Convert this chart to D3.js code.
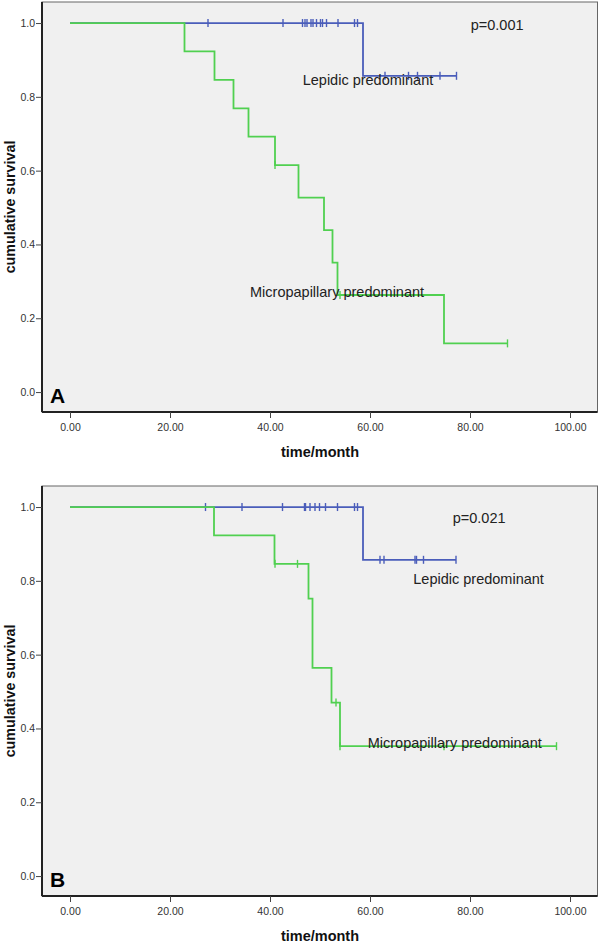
<!DOCTYPE html>
<html><head><meta charset="utf-8">
<script src="https://cdn.jsdelivr.net/npm/d3@7"></script>
<style>body{margin:0;background:#fff}svg{display:block}text{font-family:"Liberation Sans",Arial,sans-serif}</style>
</head><body>
<script>
// ---- data ----
const xTickValues = [0, 20, 40, 60, 80, 100];
const yTickValues = [0, 0.2, 0.4, 0.6, 0.8, 1.0];

// Panel A
const aLepTimes = [0, 58.6];
const aLepSurv = [1.0, 0.857];
const aLepEnd = 77.3;
const aLepCensor = [27.6, 42.6, 46.5, 47.0, 47.4, 48.2, 48.6, 49.3, 50.1, 50.5, 51.3, 53.6, 56.9, 57.5, 63.0, 67.7, 69.5, 74.0, 77.3];
const aMicTimes = [0, 22.9, 28.9, 32.7, 35.7, 41.0, 45.7, 50.8, 52.5, 53.5, 74.8];
const aMicSurv = [1.0, 0.923, 0.846, 0.769, 0.692, 0.615, 0.527, 0.439, 0.351, 0.263, 0.132];
const aMicEnd = 87.5;
const aMicCensor = [41.0, 54.0, 87.5];

// Panel B
const bLepTimes = [0, 58.6];
const bLepSurv = [1.0, 0.857];
const bLepEnd = 77.2;
const bLepCensor = [27.1, 34.4, 42.5, 46.9, 47.1, 48.0, 49.0, 49.9, 51.1, 53.5, 56.9, 57.5, 62.0, 62.8, 69.0, 69.3, 70.7, 77.2];
const bMicTimes = [0, 28.8, 40.9, 47.7, 48.5, 52.3, 54.0];
const bMicSurv = [1.0, 0.923, 0.846, 0.752, 0.564, 0.470, 0.352];
const bMicEnd = 97.3;
const bMicCensor = [41.0, 45.5, 53.2, 54.0, 74.8, 97.3];

const panels = [
  {label: "A", p: "p=0.001", offset: 0,
   lep: {t: aLepTimes, s: aLepSurv, end: aLepEnd, c: aLepCensor},
   mic: {t: aMicTimes, s: aMicSurv, end: aMicEnd, c: aMicCensor},
   pPos: [470.7, 29.5], lepPos: [302.7, 85], micPos: [250, 297.3]},
  {label: "B", p: "p=0.021", offset: 484,
   lep: {t: bLepTimes, s: bLepSurv, end: bLepEnd, c: bLepCensor},
   mic: {t: bMicTimes, s: bMicSurv, end: bMicEnd, c: bMicCensor},
   pPos: [452.7, 39.3], lepPos: [413.3, 100.3], micPos: [367.7, 263.7]}
];

const BLUE = "#4a5dba", GREEN = "#50d050";
const W = 600, H = 943;
const svg = d3.select("body").append("svg").attr("width", W).attr("height", H);

const x = d3.scaleLinear().domain([-5.6, 105.5]).range([42, 597.5]);
const y = d3.scaleLinear().domain([-0.054, 1.057]).range([412, 2]);

function survAt(curve, t) {
  let v = curve.s[0];
  for (let i = 0; i < curve.t.length; i++) if (curve.t[i] <= t) v = curve.s[i];
  return v;
}

panels.forEach(P => {
  const g = svg.append("g").attr("transform", `translate(0,${P.offset})`);
  g.append("rect").attr("x", x.range()[0]).attr("y", y.range()[1])
    .attr("width", x.range()[1] - x.range()[0]).attr("height", y.range()[0] - y.range()[1])
    .attr("fill", "#f0f0f0").attr("stroke", "#666").attr("stroke-width", 1);

  const xAxis = d3.axisBottom(x).tickValues(xTickValues).tickSize(6).tickFormat(d3.format(".2f"));
  const yAxis = d3.axisLeft(y).tickValues(yTickValues).tickSize(6).tickFormat(d3.format(".1f"));
  const gx = g.append("g").attr("transform", `translate(0,${y.range()[0]})`).call(xAxis);
  const gy = g.append("g").attr("transform", `translate(${x.range()[0]},0)`).call(yAxis);
  [gx, gy].forEach(a => {
    a.select(".domain").attr("stroke", "#222").attr("stroke-width", 2);
    a.selectAll(".tick line").attr("stroke", "#444");
    a.selectAll(".tick text").attr("fill", "#333").style("font-size", "10.5px");
  });
  gy.select(".domain").attr("d", `M0,${y.range()[0]}V${y.range()[1]}`);
  gx.select(".domain").attr("d", `M${x.range()[0]},0H${x.range()[1]}`);
  gx.selectAll(".tick text").attr("dy", "0.95em");
  gy.selectAll(".tick text").attr("x", -7);

  g.append("text").attr("x", 320).attr("y", 456.5).attr("text-anchor", "middle")
    .attr("font-weight", "bold").style("font-size", "14.5px").attr("fill", "#111").text("time/month");
  g.append("text").attr("transform", `translate(14.5,207) rotate(-90)`).attr("text-anchor", "middle")
    .attr("font-weight", "bold").style("font-size", "14.3px").attr("fill", "#111").text("cumulative survival");

  const line = d3.line().curve(d3.curveStepAfter).x(d => x(d[0])).y(d => y(d[1]));
  [[P.lep, BLUE], [P.mic, GREEN]].forEach(([c, col]) => {
    const pts = c.t.map((t, i) => [t, c.s[i]]);
    pts.push([c.end, c.s[c.s.length - 1]]);
    g.append("path").attr("d", line(pts)).attr("fill", "none").attr("stroke", col).attr("stroke-width", 1.8);
    g.selectAll(null).data(c.c).enter().append("line")
      .attr("x1", d => x(d)).attr("x2", d => x(d))
      .attr("y1", d => y(survAt(c, d)) - 4).attr("y2", d => y(survAt(c, d)) + 4)
      .attr("stroke", col).attr("stroke-width", 1.4);
  });

  g.append("text").attr("x", P.pPos[0]).attr("y", P.pPos[1]).style("font-size", "14.5px").attr("fill", "#222").text(P.p);
  g.append("text").attr("x", P.lepPos[0]).attr("y", P.lepPos[1]).style("font-size", "14.5px").attr("fill", "#222").text("Lepidic predominant");
  g.append("text").attr("x", P.micPos[0]).attr("y", P.micPos[1]).style("font-size", "14.5px").attr("fill", "#222").text("Micropapillary predominant");
  g.append("text").attr("x", 50).attr("y", 403).attr("font-weight", "bold").style("font-size", "21px").attr("fill", "#000").text(P.label);
});
</script>
</body></html>
